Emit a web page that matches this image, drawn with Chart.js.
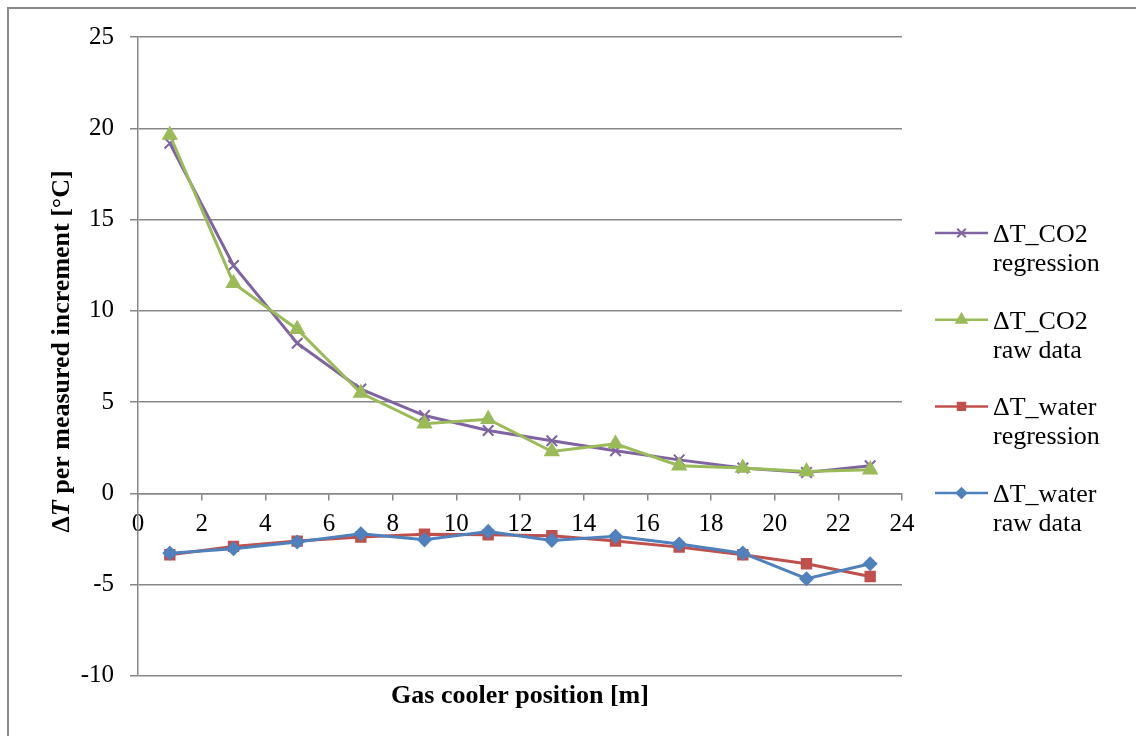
<!DOCTYPE html>
<html>
<head>
<meta charset="utf-8">
<script src="https://cdn.jsdelivr.net/npm/chart.js@4.4.1/dist/chart.umd.min.js"></script>
<style>
  html, body { margin: 0; padding: 0; background: #fff; }
  #wrap { position: relative; width: 1136px; height: 736px; }
</style>
</head>
<body>
<div id="wrap"><canvas id="chart" width="1136" height="736"></canvas></div>
<script>
"use strict";

// gas cooler positions [m]
const positions = [1, 3, 5, 7, 9, 11, 13, 15, 17, 19, 21, 23];

// temperature change per measured increment [°C]
const co2Regression   = [19.18, 12.48, 8.22, 5.71, 4.26, 3.44, 2.88, 2.33, 1.83, 1.38, 1.14, 1.51];
const co2Raw          = [19.63, 11.51, 8.99, 5.49, 3.81, 4.06, 2.29, 2.71, 1.51, 1.38, 1.19, 1.29];
const waterRegression = [-3.37, -2.91, -2.62, -2.40, -2.24, -2.27, -2.33, -2.62, -2.95, -3.37, -3.86, -4.56];
const waterRaw        = [-3.28, -3.04, -2.67, -2.22, -2.55, -2.09, -2.58, -2.36, -2.78, -3.28, -4.68, -3.86];

const seriesNames = [
    ["\u0394T_CO2", "regression"],
    ["\u0394T_CO2", "raw data"],
    ["\u0394T_water", "regression"],
    ["\u0394T_water", "raw data"]
];

const xTitle = "Gas cooler position [m]";
const yTitleParts = ["\u0394", "T", " per measured increment [\u00B0C]"];

const FONT = "'Liberation Serif', 'Times New Roman', serif";
const GRID = '#878787';

function toPoints(values) {
    return positions.map((p, i) => ({ x: p, y: values[i] }));
}

// frame round the whole figure
const framePlugin = {
    id: 'frame',
    beforeDraw(chart) {
        const ctx = chart.ctx;
        ctx.save();
        ctx.strokeStyle = '#8a8a8a';
        ctx.lineWidth = 2;
        ctx.strokeRect(8, 8, chart.width + 50, chart.height + 50);
        ctx.restore();
    }
};

// rotated y title, with the T in italics
const yTitlePlugin = {
    id: 'yTitle',
    afterDraw(chart) {
        const ctx = chart.ctx;
        const area = chart.chartArea;
        const fonts = [
            "bold 26px " + FONT,
            "italic bold 26px " + FONT,
            "bold 26px " + FONT
        ];
        ctx.save();
        let widths = yTitleParts.map((t, i) => { ctx.font = fonts[i]; return ctx.measureText(t).width; });
        let total = widths.reduce((a, b) => a + b, 0);
        ctx.translate(62, (area.top + area.bottom) / 2 - 5);
        ctx.rotate(-Math.PI / 2);
        ctx.fillStyle = '#000';
        ctx.textBaseline = 'middle';
        ctx.textAlign = 'left';
        let x = -total / 2;
        yTitleParts.forEach((t, i) => {
            ctx.font = fonts[i];
            ctx.fillText(t, x, 0);
            x += widths[i];
        });
        ctx.restore();
    }
};

// legend on the right with two-line labels
const sideLegendPlugin = {
    id: 'sideLegend',
    afterDraw(chart) {
        const ctx = chart.ctx;
        const left = chart.chartArea.right + 33;
        const firstY = 233;
        const step = 86.7;
        ctx.save();
        chart.data.datasets.forEach((ds, i) => {
            const y = firstY + i * step;
            ctx.strokeStyle = ds.borderColor;
            ctx.lineWidth = 2.5;
            ctx.beginPath();
            ctx.moveTo(left, y);
            ctx.lineTo(left + 53, y);
            ctx.stroke();
            ctx.fillStyle = ds.pointBackgroundColor;
            ctx.strokeStyle = ds.pointBorderColor;
            ctx.lineWidth = ds.pointBorderWidth;
            Chart.helpers.drawPoint(ctx, {
                pointStyle: ds.pointStyle,
                radius: ds.pointRadius * 0.8,
                borderWidth: ds.pointBorderWidth,
                rotation: 0
            }, left + 26.5, y);

            ctx.fillStyle = '#000';
            ctx.font = "26px " + FONT;
            ctx.textBaseline = 'middle';
            ctx.textAlign = 'left';
            seriesNames[i].forEach((line, k) => {
                ctx.fillText(line, left + 58, y + 2 + k * 29);
            });
        });
        ctx.restore();
    }
};

function lineSet(values, color, style, radius, order, borderW) {
    return {
        data: toPoints(values),
        borderColor: color,
        backgroundColor: color,
        borderWidth: 3,
        pointStyle: style,
        pointRadius: radius,
        pointHoverRadius: radius,
        pointBackgroundColor: color,
        pointBorderColor: color,
        pointBorderWidth: borderW,
        tension: 0,
        order: order
    };
}

const ctx = document.getElementById('chart').getContext('2d');
new Chart(ctx, {
    type: 'line',
    data: {
        datasets: [
            lineSet(co2Regression, '#8064A2', 'crossRot', 7.5, 4, 2),
            lineSet(co2Raw, '#9BBB59', 'triangle', 8, 3, 1.5),
            lineSet(waterRegression, '#C0504D', 'rect', 7, 2, 1.5),
            lineSet(waterRaw, '#4F81BD', 'rectRot', 6.5, 1, 1.5)
        ]
    },
    options: {
        responsive: false,
        animation: false,
        layout: { padding: { left: 0, top: 37, right: 234, bottom: 24 } },
        plugins: {
            legend: { display: false },
            tooltip: { enabled: false },
            title: {
                display: true,
                text: xTitle,
                position: 'bottom',
                fullSize: false,
                color: '#000',
                font: { family: FONT, size: 26, weight: 'bold' },
                padding: { top: 5, bottom: 0 }
            }
        },
        scales: {
            x: {
                type: 'linear',
                min: 0,
                max: 24,
                position: { y: 0 },
                grid: { drawOnChartArea: false, color: GRID, lineWidth: 1.5, tickLength: 6 },
                border: { display: true, color: GRID, width: 1.5 },
                ticks: {
                    stepSize: 2,
                    padding: 10,
                    color: '#000',
                    font: { family: FONT, size: 25 }
                }
            },
            y: {
                min: -10,
                max: 25,
                grid: { color: GRID, lineWidth: 1.5, tickLength: 8 },
                border: { display: true, color: GRID, width: 1.5 },
                ticks: {
                    stepSize: 5,
                    padding: 16,
                    color: '#000',
                    font: { family: FONT, size: 25 }
                },
                afterFit(scale) { scale.width = 138; }
            }
        }
    },
    plugins: [framePlugin, yTitlePlugin, sideLegendPlugin]
});
</script>
</body>
</html>
